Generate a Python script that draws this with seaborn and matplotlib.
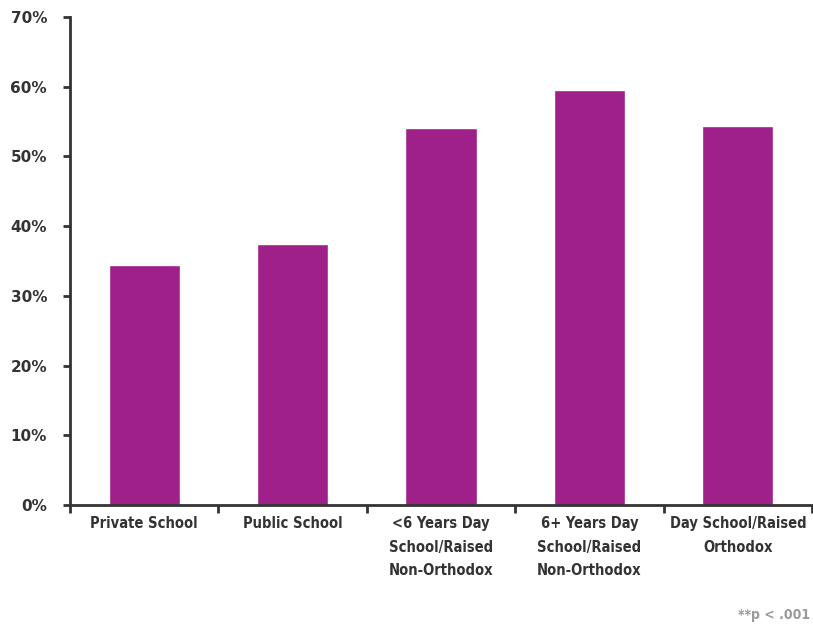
import matplotlib
matplotlib.use("Agg")
import matplotlib.pyplot as plt
import seaborn as sns
import pandas as pd
import numpy as np

categories = [
    "Private School",
    "Public School",
    "<6 Years Day\nSchool/Raised\nNon-Orthodox",
    "6+ Years Day\nSchool/Raised\nNon-Orthodox",
    "Day School/Raised\nOrthodox",
]
values = [34.4, 37.4, 54.1, 59.5, 54.4]
y_ticks = [0, 10, 20, 30, 40, 50, 60, 70]

sns.set_theme(style="white")
plt.rcParams["font.family"] = ["DejaVu Sans"]

df = pd.DataFrame({"group": categories, "pct": values})

fig = plt.figure(figsize=(8.13, 6.3), dpi=100)
ax = fig.add_axes([0.0861, 0.1984, 0.9127, 0.7746])

sns.barplot(data=df, x="group", y="pct", color="#A0208A", saturation=1,
            width=0.48, ax=ax)

ax.set_xlim(-0.5, len(categories) - 0.5)
ax.set_ylim(0, 70)
ax.set_yticks(y_ticks)
ax.set_yticklabels([f"{t}%" for t in y_ticks], fontsize=11, fontweight="bold",
                   color="#333333")

# category labels centred, tick marks at category boundaries
ax.set_xticks(range(len(categories)))
ax.set_xticklabels(categories, fontsize=10.5, fontweight="bold", color="#333333",
                   fontstretch="condensed", linespacing=1.72, va="top")
ax.set_xticks(np.arange(-0.5, len(categories)), minor=True)
ax.tick_params(axis="x", which="major", length=0, pad=8)
ax.tick_params(axis="x", which="minor", length=6, width=2, color="#333333",
               direction="out", bottom=True)
ax.tick_params(axis="y", length=5, width=2, color="#333333", direction="out",
               left=True, pad=11.5)

ax.set_xlabel("")
ax.set_ylabel("")
for side in ["top", "right"]:
    ax.spines[side].set_visible(False)
for side in ["left", "bottom"]:
    ax.spines[side].set_color("#333333")
    ax.spines[side].set_linewidth(2)

fig.text(0.996, 0.012, "**p < .001", ha="right", va="bottom", fontsize=10,
         fontweight="bold", fontstretch="condensed", color="#9a9a9a")

fig.savefig("out.png", dpi=100)
